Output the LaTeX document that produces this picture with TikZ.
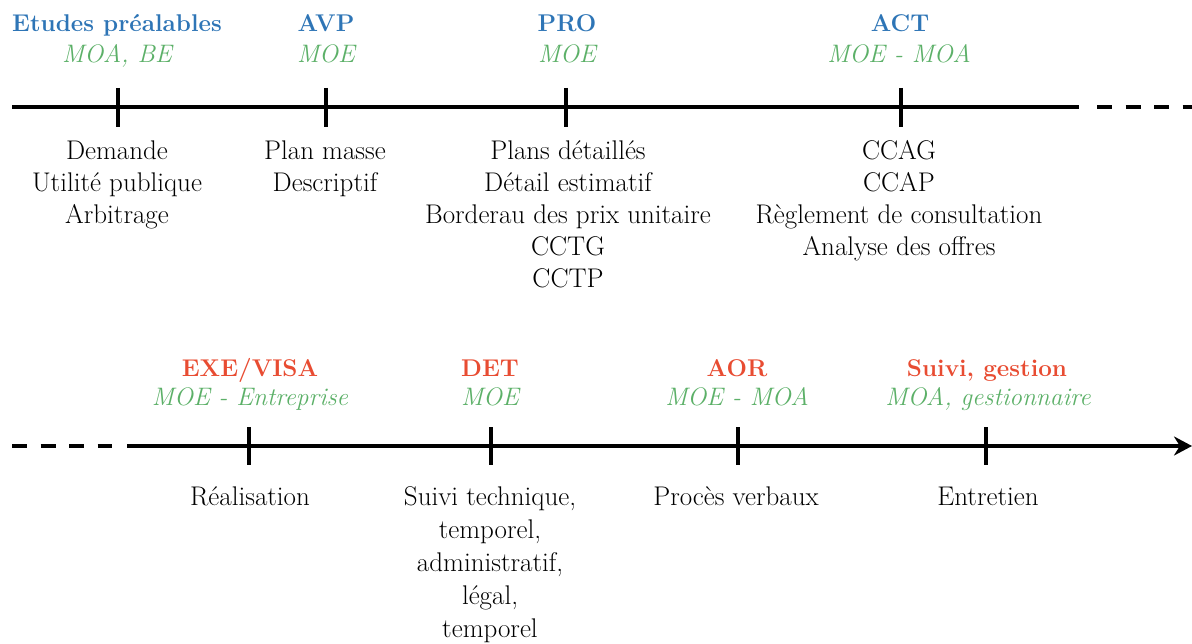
\documentclass[tikz,border=0pt]{standalone}
\usepackage{fontspec}
\usetikzlibrary{positioning,arrows.meta}
\definecolor{phasebleu}{RGB}{46,117,182}
\definecolor{phaserouge}{RGB}{232,76,50}
\definecolor{acteurvert}{RGB}{92,176,104}
\tikzset{
  axe/.style={line width=3.8pt},
  jalon/.style={line width=3.8pt},
  pointilles/.style={line width=3.8pt, dash pattern=on 15pt off 13.5pt},
  phase/.style={anchor=base, inner sep=0pt, font=\fontsize{24.2}{28}\selectfont\bfseries},
  acteur/.style={anchor=base, inner sep=0pt, text=acteurvert, font=\fontsize{25.3}{28}\selectfont\itshape},
  % base = ligne de base de la derniere ligne
  taches/.style={anchor=base, inner sep=0pt, align=center, font=\fontsize{27}{32}\selectfont},
}
\begin{document}
\begin{tikzpicture}[x=1pt,y=-1pt]
  \useasboundingbox (0,0) rectangle (1192,644);
  % ligne du haut
  \coordinate (h0) at (12,107);
  \coordinate (h1) at (118,107);
  \coordinate (h2) at (326,107);
  \coordinate (h3) at (566,107);
  \coordinate (h4) at (901,107);
  \coordinate (h5) at (1079,107);
  \coordinate (h6) at (1097,107);
  \coordinate (h7) at (1192,107);
  \draw[axe] (h0) -- (h5);
  \draw[pointilles] (h6) -- (h7);
  \foreach \j in {h1,h2,h3,h4}
    \draw[jalon] ([yshift=19pt]\j) -- ([yshift=-20pt]\j);
  \node[phase, text=phasebleu] (etudes) at (117,32) {Etudes préalables};
  \node[acteur] (etudesmo) at (117,63) {MOA, BE};
  \node[phase, text=phasebleu] (avp) at (326,32) {AVP};
  \node[acteur] (avpmo) at (326,63) {MOE};
  \node[phase, text=phasebleu] (pro) at (567,32) {PRO};
  \node[acteur] (promo) at (567,63) {MOE};
  \node[phase, text=phasebleu] (act) at (900,32) {ACT};
  \node[acteur] (actmo) at (899,63) {MOE - MOA};
  \node[taches] (etudesdoc) at (117,224) {Demande\\Utilité publique\\Arbitrage};
  \node[taches] (avpdoc) at (325,192) {Plan masse\\Descriptif};
  \node[taches] (prodoc) at (568,288) {Plans détaillés\\Détail estimatif\\Borderau des prix unitaire\\CCTG\\CCTP};
  \node[taches] (actdoc) at (899,256) {CCAG\\CCAP\\Règlement de consultation\\Analyse des offres};
  % ligne du bas
  \coordinate (b0) at (12,446);
  \coordinate (b1) at (112,446);
  \coordinate (b2) at (127,446);
  \coordinate (b3) at (249,446);
  \coordinate (b4) at (491,446);
  \coordinate (b5) at (738,446);
  \coordinate (b6) at (986,446);
  \coordinate (b7) at (1192,446);
  \draw[pointilles] (b0) -- (b1);
  \draw[axe, -{Stealth[length=18pt,width=19pt]}] (b2) -- (b7);
  \foreach \j in {b3,b4,b5,b6}
    \draw[jalon] ([yshift=19pt]\j) -- ([yshift=-19pt]\j);
  \node[phase, text=phaserouge] (exe) at (250,377) {EXE/VISA};
  \node[acteur] (exemo) at (250,406) {MOE - Entreprise};
  \node[phase, text=phaserouge] (det) at (490,377) {DET};
  \node[acteur] (detmo) at (490,406) {MOE};
  \node[phase, text=phaserouge] (aor) at (737,377) {AOR};
  \node[acteur] (aormo) at (737,406) {MOE - MOA};
  \node[phase, text=phaserouge] (suivi) at (987,377) {Suivi, gestion};
  \node[acteur] (suivimo) at (988,406) {MOA, gestionnaire};
  \node[taches] (exedoc) at (250,505) {Réalisation};
  \node[taches, font=\fontsize{27}{33}\selectfont] (detdoc) at (490,637) {Suivi technique,\\temporel,\\administratif,\\légal,\\temporel};
  \node[taches] (aordoc) at (736,505) {Procès verbaux};
  \node[taches] (suividoc) at (988,505) {Entretien};
\end{tikzpicture}
\end{document}
